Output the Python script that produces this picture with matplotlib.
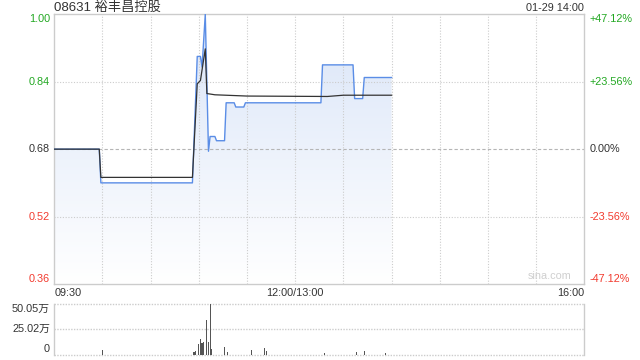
import matplotlib
matplotlib.use('Agg')
import matplotlib.pyplot as plt
from matplotlib.colors import LinearSegmentedColormap
import numpy as np

plt.rcParams['font.family'] = ['Liberation Sans', 'Noto Sans CJK SC', 'DejaVu Sans']

# -------------------------------------------------------------------
# data: minutes since 09:30, lunch break removed (0..330)
price_t = [0, 28, 29, 86, 89, 91, 92, 94, 96, 97, 100, 101, 106, 107, 112, 113,
           118, 119, 166, 167, 186, 187, 192, 193, 210]
price = [0.68, 0.68, 0.60, 0.60, 0.90, 0.90, 0.875, 1.00, 0.675, 0.71, 0.71, 0.70,
         0.70, 0.79, 0.79, 0.78, 0.78, 0.79, 0.79, 0.88, 0.88, 0.80, 0.80, 0.85, 0.85]

avg_t = [0, 28, 29, 86, 89, 91, 94, 95, 100, 120, 170, 180, 210]
avg = [0.68, 0.68, 0.613, 0.613, 0.835, 0.843, 0.918, 0.812, 0.809, 0.806,
       0.805, 0.808, 0.808]

# volume in 万 shares
vol_t = [30, 87, 88, 90, 91, 92, 93, 95, 96, 97, 98, 106, 108, 123, 131, 132,
         168, 188, 193, 206]
vol = [4.5, 2.7, 3.0, 10.0, 15.0, 11.7, 12.7, 34.0, 12.0, 50.05, 5.0, 7.0, 2.5,
       4.0, 6.0, 3.0, 1.5, 2.5, 3.0, 1.5]

prev_close = 0.68
price_ticks = [0.36, 0.52, 0.68, 0.84, 1.00]
pct_labels = ['-47.12%', '-23.56%', '0.00%', '+23.56%', '+47.12%']
time_pos = [0, 150, 330]
time_labels = ['09:30', '12:00/13:00', '16:00']
vol_ticks = [0, 25.02, 50.05]
vol_labels = ['0', '25.02万', '50.05万']

title = '08631 裕丰昌控股'
stamp = '01-29 14:00'

GREEN = '#22a822'
RED = '#f23a2e'
DARK = '#333333'
GRID = '#cccccc'

W, H = 640, 360


def fx(px):
    return px / W


def fy(py):
    return 1 - py / H


# -------------------------------------------------------------------
fig = plt.figure(figsize=(6.4, 3.6), dpi=100)
ax = fig.add_axes([fx(54.3), fy(284), fx(584.3) - fx(54.3), fy(14.3) - fy(284)])
axv = fig.add_axes([fx(54.3), fy(354.5), fx(584.3) - fx(54.3), fy(304.3) - fy(354.5)])

# main price chart
ax.set_xlim(0, 330)
ax.set_ylim(price_ticks[0], price_ticks[-1])

# gradient fill below price line
cmap = LinearSegmentedColormap.from_list('fill', ['#ffffff', '#dae5f8'])
grad = np.linspace(0, 1, 256).reshape(-1, 1)
im = ax.imshow(grad, extent=[0, 330, price_ticks[0], price_ticks[-1]], origin='lower',
               aspect='auto', cmap=cmap, zorder=1)
poly = ax.fill_between(price_t, price, price_ticks[0], color='none')
im.set_clip_path(poly.get_paths()[0], transform=ax.transData)

# grid (drawn over the fill)
for t in range(30, 330, 30):
    ax.axvline(t, color=GRID, ls=(0, (1, 1.5)), lw=0.8, zorder=2)
for p in price_ticks[1:-1]:
    if p == prev_close:
        ax.axhline(p, color='#b5b5b5', ls=(0, (3, 2)), lw=0.8, zorder=2)
    else:
        ax.axhline(p, color=GRID, ls=(0, (1, 1.5)), lw=0.8, zorder=2)

ax.plot(price_t, price, color='#5a8de6', lw=1.0, zorder=3)
ax.plot(avg_t, avg, color=DARK, lw=0.9, zorder=4)

for s in ax.spines.values():
    s.set_color(GRID)
    s.set_linewidth(1.0)
ax.set_xticks([])
ax.set_yticks([])

# price / percent labels
for p, lab in zip(price_ticks, pct_labels):
    if p > prev_close + 1e-9:
        c = GREEN
    elif p < prev_close - 1e-9:
        c = RED
    else:
        c = DARK
    if p == price_ticks[-1]:
        va = 'top'
    elif p == price_ticks[0]:
        va = 'bottom'
    else:
        va = 'center'
    ax.text(-0.008, p, f'{p:.2f}', transform=ax.get_yaxis_transform(),
            ha='right', va=va, color=c, fontsize=7.8)
    ax.text(1.01, p, lab, transform=ax.get_yaxis_transform(),
            ha='left', va=va, color=c, fontsize=7.8)

# time labels
for t, lab in zip(time_pos, time_labels):
    ha = 'left' if t == 0 else ('right' if t == 330 else 'center')
    ax.text(t, -9.5 / 270, lab, transform=ax.get_xaxis_transform(),
            ha=ha, va='center', color=DARK, fontsize=7.8)

ax.text(0.975, 0.012, 'sina.com', transform=ax.transAxes, ha='right', va='bottom',
        color='#cfcfcf', fontsize=7.8)

fig.text(fx(54), fy(8), title, ha='left', va='center', color=DARK, fontsize=9.5)
fig.text(fx(584), fy(8), stamp, ha='right', va='center', color=DARK, fontsize=7.8)

# volume chart
axv.set_xlim(0, 330)
axv.set_ylim(0, vol_ticks[-1])
axv.bar(vol_t, vol, width=0.7, color='#555555', zorder=3)
for v in vol_ticks:
    axv.axhline(v, color=GRID, ls=(0, (1, 1)), lw=1.0, zorder=1, clip_on=False)
for k in ['top', 'bottom']:
    axv.spines[k].set_visible(False)
for k in ['left', 'right']:
    axv.spines[k].set_color(GRID)
    axv.spines[k].set_linewidth(1.0)
axv.set_xticks([])
axv.set_yticks([])
for v, lab in zip(vol_ticks, vol_labels):
    if v == vol_ticks[-1]:
        va = 'top'
    elif v == vol_ticks[0]:
        va = 'bottom'
    else:
        va = 'center'
    axv.text(-0.008, v, lab, transform=axv.get_yaxis_transform(),
             ha='right', va=va, color=DARK, fontsize=7.8)

fig.savefig('out.png', dpi=100)
